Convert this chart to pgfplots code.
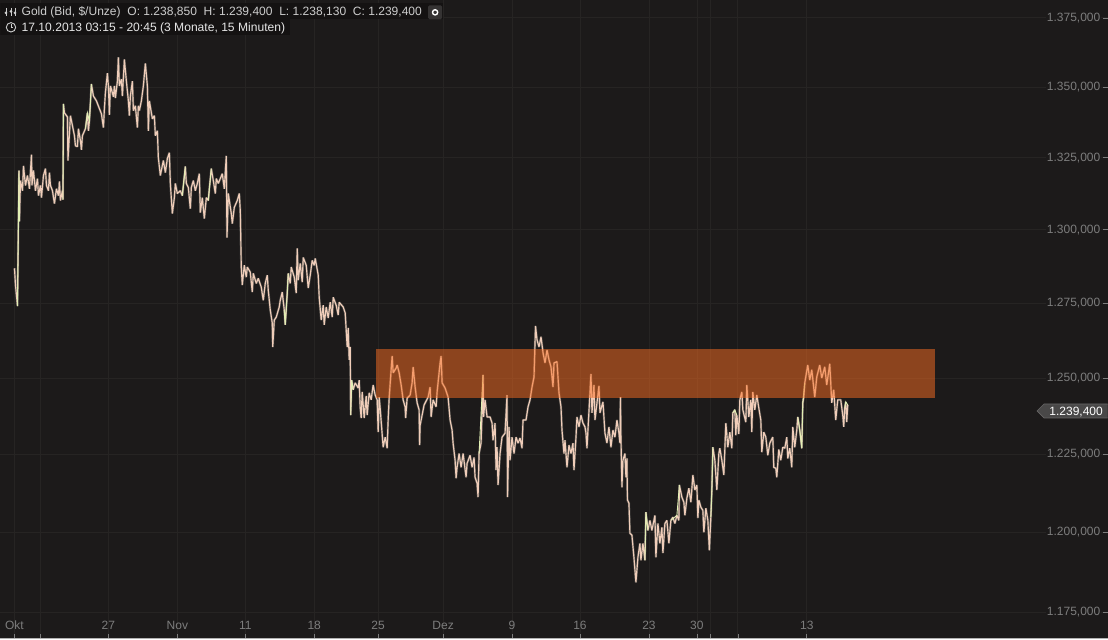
\documentclass[border=0pt]{standalone}
\usepackage{fontspec}
\setmainfont{Liberation Sans}
\usepackage{pgfplots}
\pgfplotsset{compat=1.18}
\definecolor{bg}{RGB}{28,26,26}
\definecolor{gridc}{RGB}{38,36,35}
\definecolor{tickc}{RGB}{125,125,125}
\definecolor{kurs}{RGB}{240,205,185}
\definecolor{kursgrau}{RGB}{165,160,150}
\definecolor{kursup}{RGB}{226,240,180}
\definecolor{zone}{RGB}{253,110,34}
\definecolor{headtxt}{RGB}{205,205,205}
\pgfplotsset{up/.style={kursup,line width=0.9pt,forget plot}}
\begin{document}
\begin{tikzpicture}
\begin{axis}[
    scale only axis,
    width=1108pt, height=639pt,
    xmin=0, xmax=1108,
    % log price scale, the reference's ticks are not evenly spaced
    y coord trafo/.code={\pgfmathparse{ln(#1)}},
    ymin=1166.72, ymax=1381.3,
    axis background/.style={fill=bg},
    axis x line=bottom, axis y line=right,
    x axis line style={-,draw=black!30!white,line width=1pt},
    y axis line style={-,draw=none},
    tick align=inside,
    major tick length=5pt,
    tick style={draw=tickc,line width=0.6pt},
    grid=major,
    grid style={draw=gridc,line width=0.7pt},
    scaled y ticks=false,
    xtick={14,40,108,177,245,314,378,443,512,580,649,697,710,738,807},
    xticklabels={Okt,,27,Nov,11,18,25,Dez,9,16,23,30,,,13},
    ytick={1175,1200,1225,1250,1275,1300,1325,1350,1375},
    yticklabels={{1.175,000},{1.200,000},{1.225,000},{1.250,000},{1.275,000},{1.300,000},{1.325,000},{1.350,000},{1.375,000}},
    ticklabel style={font=\fontsize{12}{14}\selectfont,text=tickc},
    xticklabel style={anchor=base,yshift=9pt},
    yticklabel style={anchor=east,xshift=-6pt,fill=bg,inner sep=1pt},
]

% Kursverlauf
\addplot[kurs,line width=1.15pt,line join=bevel,
    preaction={draw=kursgrau,line width=2.3pt,draw opacity=0.4}] coordinates {
(14,1286.8)(15,1281.1)(17,1274.0)(18.5,1320.5)(19,1302.9)(19.5,1310.1)(20,1317.0)(22,1313.5)(23,1322.2)(25,1315.3)
(27,1318.8)(29,1314.2)(31,1326.1)(31.5,1315.3)(33,1320.5)(35,1313.5)(37,1317.7)(38,1311.8)(40,1315.3)(41,1311.1)
(43,1318.8)(45,1321.2)(46,1315.3)(48,1313.5)(49,1319.8)(50,1315.3)(52,1313.5)(54,1309.0)(56,1314.2)(58,1311.8)
(59,1316.7)(60,1310.1)(62,1313.5)(62.5,1310.4)(63,1344.0)(64,1340.8)(67,1339.4)(67.5,1324.0)(70,1339.8)(72,1336.3)
(74,1332.8)(75,1329.2)(77,1328.9)(78,1335.2)(80,1331.0)(81,1327.8)(82,1332.8)(85,1335.2)(87,1340.8)(88,1334.5)
(89,1338.0)(91,1351.1)(93,1346.8)(96,1345.1)(99,1342.3)(101,1340.5)(103,1335.6)(104,1342.3)(105,1347.9)(107,1355.0)
(108,1350.4)(109,1340.1)(110,1350.4)(111,1349.3)(113,1346.5)(114,1350.4)(115,1346.1)(117,1352.1)(118,1360.7)(119,1350.4)
(121,1352.8)(122,1346.8)(124,1359.9)(126,1352.1)(128,1345.1)(129,1339.8)(130,1346.8)(132,1352.1)(133,1341.6)(135,1343.3)
(137,1335.6)(138,1343.3)(139,1341.6)(141,1345.1)(143,1350.4)(145,1358.5)(147,1350.4)(148,1334.5)(149,1345.1)(152,1338.7)
(154,1339.8)(155,1332.8)(157,1334.5)(158,1325.0)(160,1318.8)(161,1320.5)(163,1324.0)(165,1319.8)(167,1324.7)(169,1326.8)
(170,1316.0)(172,1305.6)(174,1311.1)(175,1316.0)(177,1312.5)(180,1313.5)(182,1311.8)(185,1321.9)(186,1316.0)(188,1314.6)
(190,1307.3)(191,1314.6)(193,1317.0)(195,1313.5)(197,1316.0)(199,1319.4)(200,1305.9)(202,1311.1)(204,1303.8)(206,1311.1)
(208,1310.1)(209,1314.2)(211,1321.2)(213,1317.0)(215,1312.5)(216,1317.7)(218,1316.0)(222,1319.4)(224,1314.2)(226,1325.7)
(226.7,1297.3)(228,1312.5)(231,1305.6)(232,1302.1)(234,1307.7)(237,1310.1)(239,1312.5)(240,1306.6)(241,1287.2)(242,1281.1)
(244,1287.8)(246,1283.8)(247,1287.2)(250,1285.5)(252,1278.7)(253,1285.1)(256,1281.7)(258,1283.4)(261,1280.4)(263,1276.0)
(265,1281.7)(267,1284.5)(268,1279.4)(270,1272.7)(272,1268.3)(272.5,1260.3)(274,1269.3)(276,1270.3)(279,1273.7)(280,1276.0)
(282,1278.7)(284,1272.7)(285,1267.7)(287,1278.4)(288,1285.1)(290,1281.7)(291,1287.2)(294,1283.8)(296,1278.4)(297,1293.6)
(298,1282.8)(300,1288.5)(302,1282.1)(303,1290.5)(306,1287.8)(308,1280.1)(310,1284.5)(312,1289.5)(314,1287.8)(315,1290.2)
(318,1284.5)(319,1277.0)(321,1269.3)(323,1274.3)(324,1267.7)(326,1273.7)(328,1270.0)(330,1275.3)(332,1270.3)(333,1277.0)
(336,1274.3)(338,1271.0)(339,1275.3)(343,1273.7)(345,1271.7)(346,1266.0)(347,1260.3)(348,1266.7)(349,1256.0)(350,1260.3)
(350.5,1237.8)(351.5,1249.3)(353,1246.1)(355,1248.4)(358,1246.7)(359,1249.3)(360,1240.5)(361,1236.8)(362,1245.4)(364,1236.8)
(366,1244.1)(367,1237.8)(369,1245.1)(371,1242.8)(373,1247.7)(375,1244.4)(377,1242.8)(378,1232.2)(379,1243.7)(380,1240.1)
(383,1227.3)(385,1230.6)(387,1227.0)(388,1236.2)(389,1243.4)(391,1252.7)(392,1257.3)(393,1251.7)(396,1253.3)(397,1254.3)
(399,1251.7)(401,1247.7)(403,1242.8)(405,1240.5)(405.5,1236.8)(407,1243.4)(410,1244.4)(412,1248.4)(413,1253.7)(415,1247.0)
(417,1241.8)(419,1239.5)(419.5,1228.0)(420,1234.5)(422,1237.8)(424,1241.1)(428,1243.7)(430,1247.0)(431,1237.2)(433,1242.8)
(436,1240.5)(437,1245.4)(440,1255.0)(441,1257.3)(442,1248.4)(445,1246.7)(448,1243.7)(450,1236.2)(452,1232.9)(453,1228.6)
(455,1223.1)(456,1217.3)(457,1220.8)(459,1225.3)(461,1220.8)(463,1225.3)(466,1217.6)(467,1222.1)(470,1224.7)(472,1220.8)
(474,1224.0)(475,1217.6)(477,1215.7)(478,1211.2)(479,1225.3)(481,1228.6)(483,1251.0)(483.5,1237.2)(485,1242.8)(487,1237.2)
(490,1237.2)(492,1235.2)(493,1229.6)(495,1235.2)(496,1219.9)(497,1227.3)(498,1215.1)(500,1225.3)(502,1230.6)(505,1231.9)
(507,1244.4)(507.5,1211.2)(509,1233.9)(510,1223.1)(512,1230.6)(514,1225.3)(516,1230.6)(518,1228.6)(520,1230.3)(522,1227.0)
(523,1236.2)(526,1236.2)(528,1240.5)(530,1242.8)(532,1247.0)(534,1250.3)(535.5,1267.3)(537,1262.7)(539,1260.3)(541,1263.7)
(543,1258.4)(545,1255.0)(547,1259.3)(549,1256.0)(551,1253.7)(553,1247.0)(554,1255.0)(557,1255.4)(559,1245.1)(561,1240.5)
(562,1232.9)(564,1225.3)(565,1229.6)(567,1220.8)(569,1228.0)(571,1225.3)(573,1228.6)(574,1219.9)(576,1230.6)(577,1237.2)
(579,1233.9)(581,1237.8)(583,1235.2)(585,1233.9)(586,1231.9)(587,1227.0)(591,1251.3)(592,1238.5)(594,1247.7)(595,1236.2)
(597,1241.8)(599,1247.4)(600,1238.5)(603,1242.1)(605,1231.9)(607,1228.6)(609,1233.9)(611,1227.3)(613,1232.9)(615,1230.6)
(617,1236.2)(619,1231.9)(620,1228.6)(620.5,1243.7)(621,1230.6)(622,1214.4)(623,1223.1)(625,1225.3)(626,1217.6)(627,1223.7)
(627.5,1210.3)(629,1209.3)(630,1199.7)(632,1199.1)(634,1192.1)(636,1184.2)(638,1192.1)(640,1196.5)(641,1191.2)(643,1196.5)
(645,1191.2)(646,1206.4)(648,1200.6)(650,1203.8)(652,1200.6)(654,1203.8)(655,1205.4)(656,1192.1)(658,1202.8)(660,1196.5)
(662,1201.6)(663,1193.4)(665,1202.8)(667,1203.8)(669,1196.5)(671,1203.8)(673,1204.8)(675,1202.8)(677,1205.4)(679,1203.8)
(679.5,1215.1)(682,1211.2)(684,1209.6)(685,1205.4)(687,1210.9)(689,1214.1)(691,1209.6)(693,1218.3)(695,1213.5)(697,1215.1)
(698,1204.5)(699,1210.3)(701,1208.0)(703,1207.0)(704,1200.0)(706,1207.7)(708,1203.8)(709.5,1194.3)(711,1204.8)(712,1213.5)
(713,1227.3)(715,1223.1)(717,1213.5)(719,1225.3)(720,1227.0)(722,1223.1)(724,1218.3)(726,1235.2)(728,1227.3)(730,1232.2)
(732,1227.0)(733,1238.5)(735,1239.5)(736,1231.2)(737,1237.8)(739,1231.6)(740,1242.8)(742,1245.4)(743,1239.5)(746,1235.5)
(747,1247.7)(749,1237.2)(751,1242.8)(752,1232.2)(753,1245.4)(755,1239.5)(757,1244.4)(759,1240.1)(761,1236.2)(762,1225.7)
(764,1232.2)(766,1230.6)(768,1224.7)(770,1228.6)(773,1230.6)(774,1220.8)(776,1220.5)(777,1217.6)(779,1226.6)(781,1223.1)
(783,1227.3)(785,1227.0)(787,1230.6)(788,1223.7)(790,1227.0)(792,1220.8)(793,1233.9)(795,1227.3)(797,1232.9)(798,1237.2)
(800,1232.9)(802,1227.0)(803,1241.8)(804,1243.7)(805,1248.4)(808,1254.3)(810,1249.3)(812,1252.7)(815,1243.7)(817,1250.3)
(820,1254.3)(822,1250.0)(825,1253.7)(827,1247.7)(830,1254.7)(832,1241.8)(834,1246.1)(836,1236.2)(838,1242.8)(841,1242.8)
(843,1237.8)(844,1233.9)(845,1240.1)(846,1242.1)(847,1235.5)(848,1241.1)
};

% steigende Abschnitte
\addplot[up] coordinates {(17,1274.0)(18.5,1320.5)(19,1302.9)};
\addplot[up] coordinates {(62.5,1310.4)(63,1344.0)};
\addplot[up] coordinates {(85,1335.2)(87,1340.8)(89,1338.0)(91,1351.1)};
\addplot[up] coordinates {(182,1311.8)(185,1321.9)};
\addplot[up] coordinates {(208,1310.1)(211,1321.2)};
\addplot[up] coordinates {(284,1272.7)(285,1267.7)(287,1278.4)(288,1285.1)};
\addplot[up] coordinates {(350.5,1237.8)(351.5,1249.3)(353,1246.1)};
\addplot[up] coordinates {(479,1225.3)(483,1251.0)};
\addplot[up] coordinates {(645,1191.2)(646,1206.4)(648,1200.6)};
\addplot[up] coordinates {(671,1203.8)(677,1205.4)(679.5,1215.1)};
\addplot[up] coordinates {(711,1204.8)(712,1213.5)(713,1227.3)};
\addplot[up] coordinates {(733,1238.5)(735,1239.5)(737,1237.8)};
\addplot[up] coordinates {(798,1237.2)(800,1232.9)(802,1227.0)(803,1241.8)(805,1248.4)};
\addplot[up] coordinates {(845,1240.1)(846,1242.1)(848,1241.1)};

% Widerstandszone
\addplot[draw=none,fill=zone,fill opacity=0.5] coordinates {
(376,1259.7)(935,1259.7)(935,1243.4)(376,1243.4)
} -- cycle;

% Kursmarke rechts
\fill[fill=gray!45!bg,draw=gray!75!bg,line width=0.6pt]
    ([shift={(1037.5pt,-411pt)}]axis description cs:0,1) -- ++(7pt,7pt) -- ++(64pt,0pt) -- ++(0pt,-14pt) -- ++(-64pt,0pt) -- cycle;
\node[anchor=east,inner sep=0pt,text=white,font=\fontsize{12}{14}\selectfont]
    at ([shift={(1103.5pt,-411.7pt)}]axis description cs:0,1) {1.239,400};

% Kopfzeile
\fill[black!30!bg] ([shift={(0pt,-3pt)}]axis description cs:0,1) rectangle ([shift={(443pt,-19pt)}]axis description cs:0,1);
\fill[black!30!bg] ([shift={(0pt,-19pt)}]axis description cs:0,1) rectangle ([shift={(290pt,-35pt)}]axis description cs:0,1);
\node[anchor=base west,inner sep=0pt,text=headtxt,font=\fontsize{12.05}{14}\selectfont]
    at ([shift={(21pt,-15.5pt)}]axis description cs:0,1) {Gold (Bid, \$/Unze)\ \ O: 1.238,850\ \ H: 1.239,400\ \ L: 1.238,130\ \ C: 1.239,400};
\node[anchor=base west,inner sep=0pt,text=white!90!black,font=\fontsize{12.1}{14}\selectfont]
    at ([shift={(21pt,-31.5pt)}]axis description cs:0,1) {17.10.2013 03:15 - 20:45 (3 Monate, 15 Minuten)};
\draw[headtxt,line width=0.9pt] ([shift={(10.5pt,-27pt)}]axis description cs:0,1) circle (4.7pt);
\draw[headtxt,line width=0.8pt] ([shift={(10.5pt,-24pt)}]axis description cs:0,1) -- ++(0pt,-3pt) -- ++(2.5pt,0pt);
% Symbol: drei Regler
\draw[headtxt,line width=0.7pt] ([shift={(5.5pt,-7.5pt)}]axis description cs:0,1) -- ++(0pt,-8pt);
\draw[headtxt,line width=0.7pt] ([shift={(10.5pt,-7.5pt)}]axis description cs:0,1) -- ++(0pt,-8pt);
\draw[headtxt,line width=0.7pt] ([shift={(14.5pt,-7.5pt)}]axis description cs:0,1) -- ++(0pt,-8pt);
\fill[headtxt] ([shift={(5.5pt,-12.5pt)}]axis description cs:0,1) circle (1.5pt);
\fill[headtxt] ([shift={(10.5pt,-11pt)}]axis description cs:0,1) circle (1.5pt);
\fill[headtxt] ([shift={(14.5pt,-12.5pt)}]axis description cs:0,1) circle (1.5pt);
\fill[gray!25!bg,rounded corners=1.5pt] ([shift={(428pt,-5pt)}]axis description cs:0,1) rectangle ([shift={(442pt,-19pt)}]axis description cs:0,1);
\draw[white,line width=1.4pt] ([shift={(435pt,-12pt)}]axis description cs:0,1) circle (2.6pt);
\end{axis}
\end{tikzpicture}
\end{document}
